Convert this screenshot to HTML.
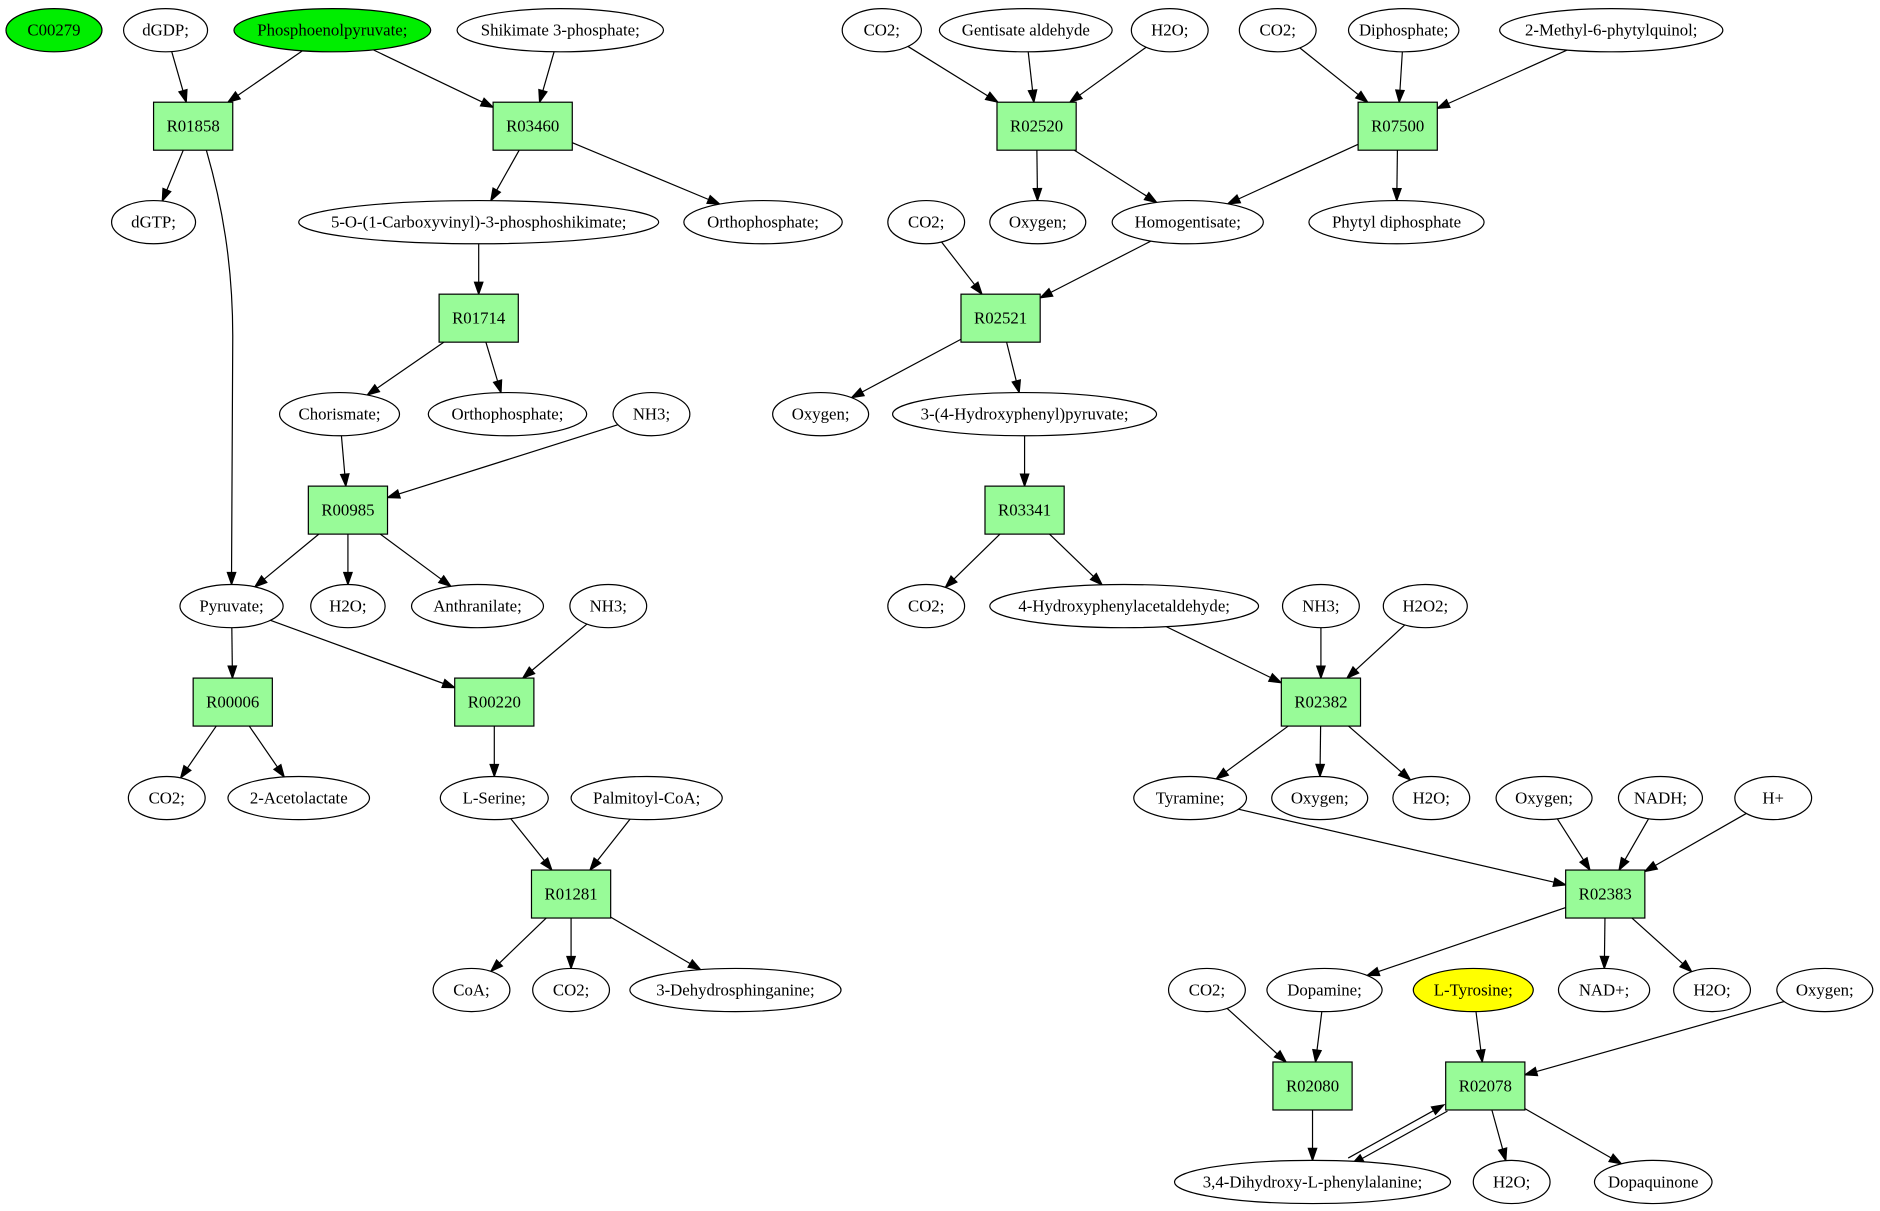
<!DOCTYPE html>
<html><head><meta charset="utf-8"><style>
html,body{margin:0;padding:0;background:#fff;}
svg{display:block}
text{font-family:"Liberation Serif",serif;font-size:14px;text-anchor:middle;dominant-baseline:central;fill:#000}
</style></head><body>
<svg id="s" width="1880" height="1211" viewBox="0 0 1567 1009" xmlns="http://www.w3.org/2000/svg">
<g id="e"></g><g id="n"></g>
</svg>
<script>
var N={};
function el(id,x,y,rx,label,fill){N[id]={t:'e',x:x,y:y,rx:rx,ry:18,l:label,f:fill||'#fff'};}
function bx(id,x,y){N[id]={t:'b',x:x,y:y,w:33,h:20,l:id,f:'#98fb98'};}
var r1=25,r2=185,r3=345,r4=505,r5=665,r6=825,r7=985;
el('C00279',45,r1,40,'C00279','#00ee00');el('dGDP',138,r1,35,'dGDP;');el('PEP',277,r1,82,'Phosphoenolpyruvate;','#00ee00');
el('Shik',467,r1,86,'Shikimate 3-phosphate;');el('co2a',735,r1,33,'CO2;');el('Gent',855,r1,72,'Gentisate aldehyde');
el('h2oa',975,r1,32,'H2O;');el('co2b',1065,r1,32,'CO2;');el('Diph',1170,r1,46,'Diphosphate;');el('Meth',1343,r1,93,'2-Methyl-6-phytylquinol;');
bx('R01858',161,105);bx('R03460',444,105);bx('R02520',864,105);bx('R07500',1165,105);
el('dGTP',128,r2,35,'dGTP;');el('5O',399,r2,150,'5-O-(1-Carboxyvinyl)-3-phosphoshikimate;');el('orthA',636,r2,66,'Orthophosphate;');
el('co2c',772,r2,32,'CO2;');el('oxA',865,r2,40,'Oxygen;');el('Homo',990,r2,63,'Homogentisate;');el('Phyt',1164,r2,73,'Phytyl diphosphate');
bx('R01714',399,265);bx('R02521',834,265);
el('Chor',283,r3,50,'Chorismate;');el('orthB',423,r3,66,'Orthophosphate;');el('nh3a',543,r3,32,'NH3;');el('oxB',684,r3,40,'Oxygen;');
el('HPP',854,r3,110,'3-(4-Hydroxyphenyl)pyruvate;');
bx('R00985',290,425);bx('R03341',854,425);
el('Pyr',193,r4,43,'Pyruvate;');el('h2ob',290,r4,31,'H2O;');el('Anth',398,r4,55,'Anthranilate;');el('nh3b',507,r4,32,'NH3;');
el('co2d',772,r4,32,'CO2;');el('HPA',937,r4,112,'4-Hydroxyphenylacetaldehyde;');el('nh3c',1101,r4,32,'NH3;');el('h2o2',1188,r4,35,'H2O2;');
bx('R00006',194,585);bx('R00220',412,585);bx('R02382',1101,585);
el('co2e',139,r5,32,'CO2;');el('Acet',249,r5,59,'2-Acetolactate');el('Ser',412,r5,45,'L-Serine;');el('Palm',539,r5,63,'Palmitoyl-CoA;');
el('Tyra',992,r5,47,'Tyramine;');el('oxC',1100,r5,40,'Oxygen;');el('h2oc',1193,r5,32,'H2O;');el('oxD',1287,r5,40,'Oxygen;');
el('NADH',1384,r5,35,'NADH;');el('Hp',1478,r5,32,'H+');
bx('R01281',476,745);bx('R02383',1338,745);
el('CoA',393,r6,32,'CoA;');el('co2f',476,r6,32,'CO2;');el('Dehy',613,r6,88,'3-Dehydrosphinganine;');el('co2g',1006,r6,32,'CO2;');
el('Dopa',1104,r6,48,'Dopamine;');el('Tyr',1228,r6,50,'L-Tyrosine;','#ffff00');el('NAD',1337,r6,38,'NAD+;');el('h2od',1427,r6,32,'H2O;');el('oxE',1521,r6,40,'Oxygen;');
bx('R02080',1094,905);bx('R02078',1238,905);
el('DOPA',1094,r7,115,'3,4-Dihydroxy-L-phenylalanine;');el('h2oe',1260,r7,32,'H2O;');el('Dq',1378,r7,49,'Dopaquinone');
var E=[['dGDP','R01858'],['PEP','R01858'],['PEP','R03460'],['Shik','R03460'],['R01858','dGTP'],['R03460','5O'],['R03460','orthA'],
['5O','R01714'],['R01714','Chor'],['R01714','orthB'],['Chor','R00985'],['nh3a','R00985'],['R00985','Pyr'],['R00985','h2ob'],['R00985','Anth'],
['Pyr','R00006'],['Pyr','R00220'],['nh3b','R00220'],['R00006','co2e'],['R00006','Acet'],['R00220','Ser'],['Ser','R01281'],['Palm','R01281'],
['R01281','CoA'],['R01281','co2f'],['R01281','Dehy'],
['co2a','R02520'],['Gent','R02520'],['h2oa','R02520'],['R02520','oxA'],['R02520','Homo'],['co2b','R07500'],['Diph','R07500'],['Meth','R07500'],
['R07500','Homo'],['R07500','Phyt'],['co2c','R02521'],['Homo','R02521'],['R02521','oxB'],['R02521','HPP'],['HPP','R03341'],['R03341','co2d'],
['R03341','HPA'],['HPA','R02382'],['nh3c','R02382'],['h2o2','R02382'],['R02382','Tyra'],['R02382','oxC'],['R02382','h2oc'],['Tyra','R02383'],
['oxD','R02383'],['NADH','R02383'],['Hp','R02383'],['R02383','Dopa'],['R02383','NAD'],['R02383','h2od'],['co2g','R02080'],['Dopa','R02080'],
['R02080','DOPA'],['Tyr','R02078'],['oxE','R02078'],['R02078','h2oe'],['R02078','Dq']];
function clip(n,dx,dy){ // point on boundary from center in direction (dx,dy)
 var t;
 if(n.t=='e'){t=1/Math.sqrt(dx*dx/(n.rx*n.rx)+dy*dy/(n.ry*n.ry));}
 else{t=Math.min(Math.abs(dx)>0?n.w/Math.abs(dx):1e9,Math.abs(dy)>0?n.h/Math.abs(dy):1e9);}
 return [n.x+dx*t,n.y+dy*t];
}
var g=document.getElementById('e'),ns='http://www.w3.org/2000/svg',h='';
function arrow(p,q){ // arrow ending at q coming from p
 var dx=q[0]-p[0],dy=q[1]-p[1],L=Math.hypot(dx,dy),ux=dx/L,uy=dy/L;
 var bx=q[0]-ux*10,by=q[1]-uy*10;
 h+='<polygon points="'+q[0]+','+q[1]+' '+(bx-uy*3.5)+','+(by+ux*3.5)+' '+(bx+uy*3.5)+','+(by-ux*3.5)+'" fill="#000" stroke="#000"/>';
 return [bx,by];
}
function line(a,b,off){
 var A=N[a],B=N[b],dx=B.x-A.x,dy=B.y-A.y;
 var p=clip(A,dx,dy),q=clip(B,-dx,-dy);
 if(off){var L=Math.hypot(dx,dy);p[0]+=-dy/L*off;p[1]+=dx/L*off;q[0]+=-dy/L*off;q[1]+=dx/L*off;}
 var e=arrow(p,q);
 h+='<line x1="'+p[0]+'" y1="'+p[1]+'" x2="'+e[0]+'" y2="'+e[1]+'" stroke="#000"/>';
}
E.forEach(function(x){line(x[0],x[1]);});
line('R02078','DOPA',-3);line('DOPA','R02078',-3);
// curved edge R01858 -> Pyruvate
var end=[193,487];arrow([193,470],end);
h+='<path d="M172,125 C185,170 194,220 194,280 L193,477" fill="none" stroke="#000"/>';
g.innerHTML=h;
var s='';
for(var k in N){var n=N[k];
 if(n.t=='e')s+='<ellipse cx="'+n.x+'" cy="'+n.y+'" rx="'+n.rx+'" ry="18" fill="'+n.f+'" stroke="#000"/>';
 else s+='<rect x="'+(n.x-n.w)+'" y="'+(n.y-n.h)+'" width="'+2*n.w+'" height="'+2*n.h+'" fill="'+n.f+'" stroke="#000"/>';
 s+='<text x="'+n.x+'" y="'+n.y+'">'+n.l.replace(/&/g,'&amp;')+'</text>';
}
document.getElementById('n').innerHTML=s;
</script>
</body></html>
